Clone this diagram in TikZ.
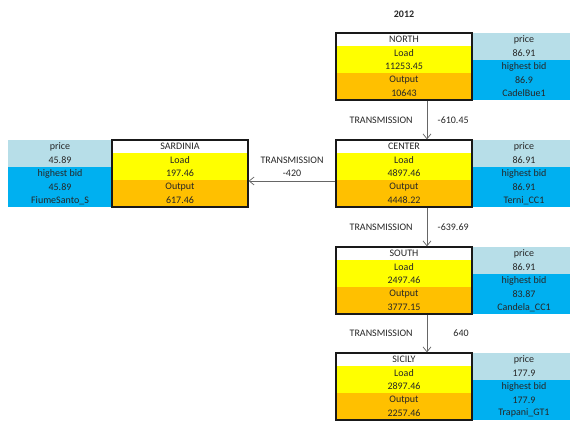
\documentclass[tikz,border=0pt]{standalone}
\usepackage{fontspec}
\setmainfont{Carlito}
\usetikzlibrary{arrows.meta, positioning, fit}
\definecolor{LoadYellow}{HTML}{FFFF00}
\definecolor{OutputOrange}{HTML}{FFC000}
\definecolor{PriceAqua}{HTML}{B7DEE8}
\definecolor{BidBlue}{HTML}{00B0F0}

% one market zone: name, top-left corner, side of price column,
% title, load, output, price, highest bid, plant
\newcommand{\zone}[9]{%
    \node[cell, anchor=north west, fill=white] (#1-1) at (#2) {#4};
    \node[cell, fill=LoadYellow, below=0pt of #1-1] (#1-2) {Load};
    \node[cell, fill=LoadYellow, below=0pt of #1-2] (#1-3) {#5};
    \node[cell, fill=OutputOrange, below=0pt of #1-3] (#1-4) {Output};
    \node[cell, fill=OutputOrange, below=0pt of #1-4] (#1-5) {#6};
    \node[pcell, fill=PriceAqua, #3=0pt of #1-1] (#1-p1) {price};
    \node[pcell, fill=PriceAqua, below=0pt of #1-p1] (#1-p2) {#7};
    \node[pcell, fill=BidBlue, below=0pt of #1-p2] (#1-p3) {highest bid};
    \node[pcell, fill=BidBlue, below=0pt of #1-p3] (#1-p4) {#8};
    \node[pcell, fill=BidBlue, below=0pt of #1-p4] (#1-p5) {#9};
    \node[frame, fit=(#1-1)(#1-5)] (#1) {};
}

\begin{document}
\begin{tikzpicture}[
    x=1pt, y=-1pt,
    cell/.style={rectangle, minimum width=136pt, minimum height=13.4pt, inner sep=0pt,
                 outer sep=0pt, font=\fontsize{10}{12}\selectfont, text=black!85},
    pcell/.style={cell, minimum width=104pt},
    frame/.style={draw=black!90, line width=1.2pt, inner sep=0pt},
    arrow/.style={-{Straight Barb[length=5pt, width=8pt]}, line width=0.7pt, color=black!60},
    lbl/.style={inner sep=0pt, font=\fontsize{10}{12}\selectfont, text=black!85}
]
    \clip (0,0) rectangle (570,421);

    \zone{north}{336,33}{right}{NORTH}{11253.45}{10643}{86.91}{86.9}{CadelBue1}
    \zone{center}{336,140}{right}{CENTER}{4897.46}{4448.22}{86.91}{86.91}{Terni\_CC1}
    \zone{south}{336,247}{right}{SOUTH}{2497.46}{3777.15}{86.91}{83.87}{Candela\_CC1}
    \zone{sicily}{336,353}{right}{SICILY}{2897.46}{2257.46}{177.9}{177.9}{Trapani\_GT1}
    \zone{sardinia}{112,140}{left}{SARDINIA}{197.46}{617.46}{45.89}{45.89}{FiumeSanto\_S}

    \node[lbl, font=\fontsize{10}{12}\selectfont\bfseries, above=15pt of north] (year) {2012};

    \draw[arrow] ([xshift=23pt]north.south) -- ([xshift=23pt]center.north)
        node[midway, lbl, left=14pt] {TRANSMISSION}
        node[midway, lbl, anchor=east, xshift=42pt] {-610.45};
    \draw[arrow] ([xshift=23pt]center.south) -- ([xshift=23pt]south.north)
        node[midway, lbl, left=14pt] {TRANSMISSION}
        node[midway, lbl, anchor=east, xshift=42pt] {-639.69};
    \draw[arrow] ([xshift=23pt]south.south) -- ([xshift=23pt]sicily.north)
        node[midway, lbl, left=14pt] {TRANSMISSION}
        node[midway, lbl, anchor=east, xshift=42pt] {640};
    \draw[arrow] ([yshift=-7.5pt]center.west) -- ([yshift=-7.5pt]sardinia.east)
        node[midway, lbl, above=4pt, align=center] {TRANSMISSION\\[1pt]-420};
\end{tikzpicture}
\end{document}
